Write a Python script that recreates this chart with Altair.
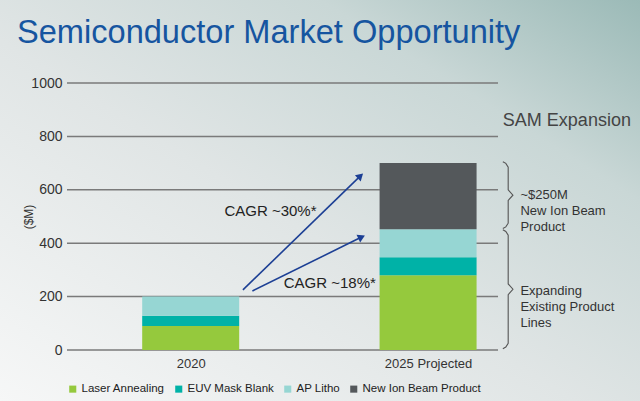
import math
import altair as alt
import pandas as pd

# ---------------- data ----------------
title_text = "Semiconductor Market Opportunity"
years = ["2020", "2025 Projected"]
year_pos = [1, 3]
segments = ["Laser Annealing", "EUV Mask Blank", "AP Litho", "New Ion Beam Product"]
seg_colors = ["#95c93d", "#00b2a7", "#96d6d3", "#54585b"]
values_2020 = [90, 38, 72, 0]
values_2025 = [280, 67, 105, 248]
y_ticks = [0, 200, 400, 600, 800, 1000]

cagr_labels = ["CAGR ~30%*", "CAGR ~18%*"]
arrow_start_x = [1.44, 1.52]
arrow_start_y = [225, 221]
arrow_end_x = [2.43, 2.44]
arrow_end_y = [652, 423]
cagr_label_x = [2.06, 2.56]
cagr_label_y = [520, 251]

brace_ranges = [(455, 705), (5, 450)]
brace_texts = [["~$250M", "New Ion Beam", "Product"],
               ["Expanding", "Existing Product", "Lines"]]
side_title = "SAM Expansion"

FONT = "Liberation Sans"
X_DOMAIN = [0, 3.547]
W, H = 431, 267
PAD = {"left": 67, "top": 83, "right": 142, "bottom": 51}

# ---------------- tables ----------------
rows = []
for yr, pos, vals in [(years[0], year_pos[0], values_2020), (years[1], year_pos[1], values_2025)]:
    for i, (s, v) in enumerate(zip(segments, vals)):
        if v > 0:
            rows.append({"year": yr, "pos": pos, "segment": s, "value": v, "order": i})
bars_df = pd.DataFrame(rows)

px_x = W / (X_DOMAIN[1] - X_DOMAIN[0])
px_y = H / 1000
arrows_df = pd.DataFrame({
    "x": arrow_start_x, "y": arrow_start_y,
    "x2": arrow_end_x, "y2": arrow_end_y,
})
arrows_df["angle"] = [
    math.degrees(math.atan2((x2 - x) * px_x, (y2 - y) * px_y))
    for x, y, x2, y2 in zip(arrow_start_x, arrow_start_y, arrow_end_x, arrow_end_y)
]
labels_df = pd.DataFrame({"x": cagr_label_x, "y": cagr_label_y, "t": cagr_labels})

bx0, bx1, bx2 = 3.63, 3.675, 3.715
brace_rows = []
for b, (lo, hi) in enumerate(brace_ranges):
    mid = (lo + hi) / 2
    c = 20
    pts = [(bx0, hi), (bx1 - 0.02, hi - 6), (bx1, hi - c), (bx1, mid + c), (bx2, mid),
           (bx1, mid - c), (bx1, lo + c), (bx1 - 0.02, lo + 6), (bx0, lo)]
    for k, (xx, yy) in enumerate(pts):
        brace_rows.append({"b": b, "k": k, "x": xx, "y": yy})
brace_df = pd.DataFrame(brace_rows)

btext_df = pd.DataFrame({
    "x": [3.778, 3.778],
    "y": [(brace_ranges[0][0] + brace_ranges[0][1]) / 2, (brace_ranges[1][0] + brace_ranges[1][1]) / 2 - 5],
    "t": brace_texts,
})
side_df = pd.DataFrame({"x": [3.63], "y": [858], "t": [side_title]})
one = pd.DataFrame({"t": [title_text]})
grid_df = pd.DataFrame({"v": y_ticks})

xscale = alt.Scale(domain=X_DOMAIN, nice=False, zero=False)
yscale = alt.Scale(domain=[0, 1000], nice=False)

# ---------------- layers ----------------
bg_grad = alt.LinearGradient(
    gradient="linear", x1=0, y1=1, x2=1, y2=0,
    stops=[alt.GradientStop(offset=0, color="#f6f7f7"),
           alt.GradientStop(offset=0.45, color="#e0e5e5"),
           alt.GradientStop(offset=0.75, color="#c9d7d6"),
           alt.GradientStop(offset=1, color="#9bbab7")])
background = alt.Chart(one).mark_rect(color=bg_grad).encode(
    x=alt.value(-PAD["left"]), x2=alt.value(W + PAD["right"]),
    y=alt.value(-PAD["top"]), y2=alt.value(H + PAD["bottom"]))

title = alt.Chart(one).mark_text(align="left", baseline="alphabetic", fontSize=32.6, font=FONT,
                                 color="#1655a0").encode(
    x=alt.value(17 - PAD["left"]), y=alt.value(43 - PAD["top"]), text="t:N")

gridlines = alt.Chart(grid_df).mark_rule(color="#7a7a7a", strokeWidth=1.5).encode(
    y=alt.Y("v:Q", scale=yscale), x=alt.value(0), x2=alt.value(W))

bars = alt.Chart(bars_df).mark_bar(size=97).encode(
    x=alt.X("pos:Q", scale=xscale,
            axis=alt.Axis(values=year_pos, grid=False, domain=False, ticks=False, title=None,
                          labelExpr="datum.value == 1 ? '2020' : '2025 Projected'", zindex=1,
                          labelFontSize=13, labelColor="#333333", labelFont=FONT, labelPadding=7)),
    y=alt.Y("value:Q", stack="zero", scale=yscale,
            axis=alt.Axis(values=y_ticks, format="d", grid=False, zindex=1,
                          domain=False, ticks=False, title="($M)",
                          titleFontSize=12, titleFont=FONT, titleColor="#333333",
                          titleFontWeight="normal", titlePadding=-5,
                          labelFontSize=14, labelColor="#333333", labelFont=FONT, labelPadding=5)),
    color=alt.Color("segment:N", scale=alt.Scale(domain=segments, range=seg_colors),
                    legend=alt.Legend(orient="none", legendX=0, legendY=300, direction="horizontal",
                                      title=None, symbolType="square", symbolSize=50,
                                      symbolStrokeWidth=0, labelFontSize=11.5, labelFont=FONT,
                                      labelColor="#222222", columnPadding=8, labelOffset=3)),
    order=alt.Order("order:Q"),
)

arrow_color = "#1c3f94"
arrow_lines = alt.Chart(arrows_df).mark_rule(color=arrow_color, strokeWidth=1.6).encode(
    x=alt.X("x:Q", scale=xscale), y=alt.Y("y:Q", scale=yscale), x2="x2:Q", y2="y2:Q")
arrow_heads = alt.Chart(arrows_df).mark_point(shape="triangle-up", filled=True, size=70,
                                              color=arrow_color, opacity=1).encode(
    x=alt.X("x2:Q", scale=xscale), y=alt.Y("y2:Q", scale=yscale),
    angle=alt.Angle("angle:Q", scale=None))

cagr = alt.Chart(labels_df).mark_text(align="right", baseline="middle", fontSize=15,
                                      font=FONT, color="#222222").encode(
    x=alt.X("x:Q", scale=xscale), y=alt.Y("y:Q", scale=yscale), text="t:N")

braces = alt.Chart(brace_df).mark_line(color="#555555", strokeWidth=1.1, interpolate="linear").encode(
    x=alt.X("x:Q", scale=xscale), y=alt.Y("y:Q", scale=yscale),
    detail="b:N", order="k:Q")

btexts = alt.Chart(btext_df).mark_text(align="left", baseline="middle", fontSize=13, lineHeight=16,
                                       font=FONT, color="#333333").encode(
    x=alt.X("x:Q", scale=xscale), y=alt.Y("y:Q", scale=yscale), text="t")

side = alt.Chart(side_df).mark_text(align="left", baseline="middle", fontSize=18,
                                    font=FONT, color="#444444").encode(
    x=alt.X("x:Q", scale=xscale), y=alt.Y("y:Q", scale=yscale), text="t:N")

chart = alt.layer(background, title, gridlines, bars, arrow_lines, arrow_heads, cagr,
                  braces, btexts, side).properties(
    width=W, height=H,
    autosize=alt.AutoSizeParams(type="none"),
    padding=PAD,
    background="#e3e8e8",
).configure_view(stroke=None)

chart.save("out.html", embed_options={"renderer": "svg", "actions": False})
